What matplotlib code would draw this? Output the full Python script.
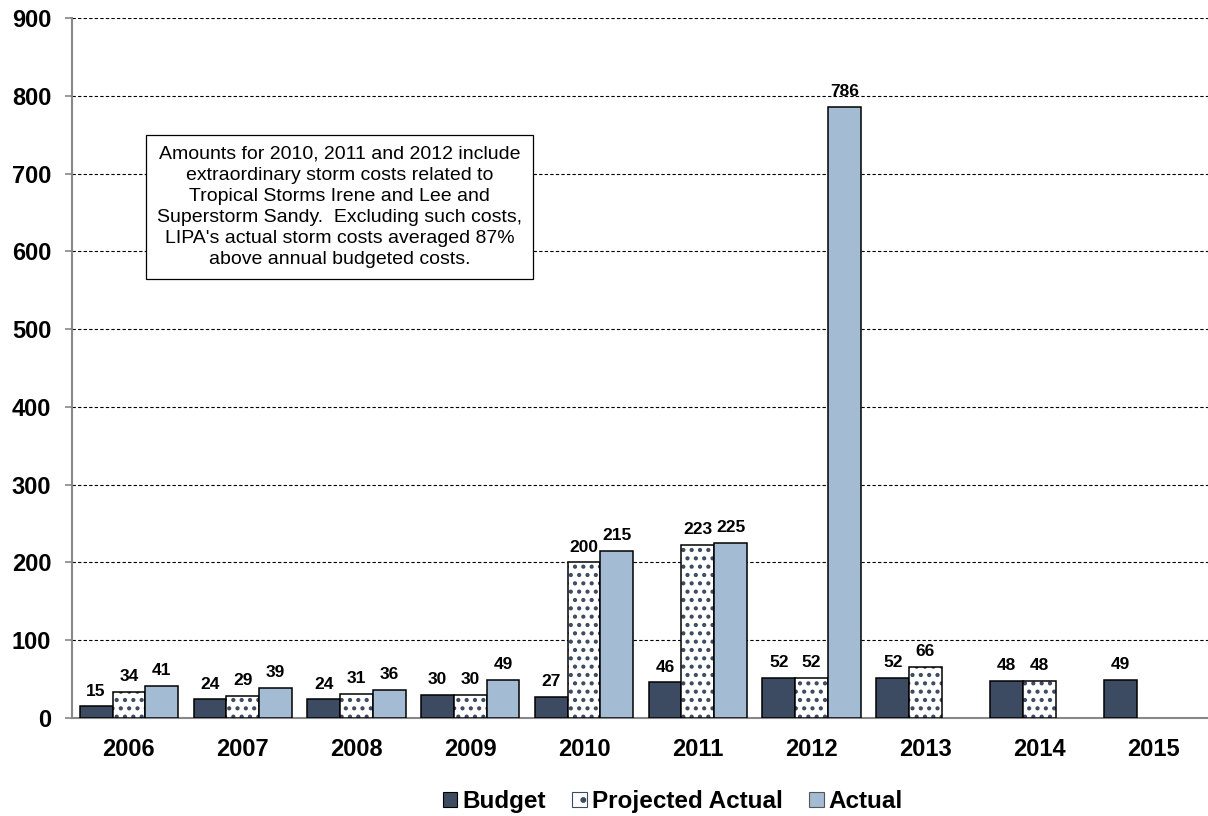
import numpy as np
import matplotlib.pyplot as plt
from matplotlib.patches import Patch

plt.rcParams['font.family'] = ['Liberation Sans', 'DejaVu Sans']
plt.rcParams['hatch.linewidth'] = 1.8
plt.rcParams['hatch.color'] = '#3c4b61'

years = ['2006', '2007', '2008', '2009', '2010', '2011', '2012', '2013', '2014', '2015']
budget = [15, 24, 24, 30, 27, 46, 52, 52, 48, 49]
projected = [34, 29, 31, 30, 200, 223, 52, 66, 48, None]
actual = [41, 39, 36, 49, 215, 225, 786, None, None, None]

note = ("Amounts for 2010, 2011 and 2012 include\n"
        "extraordinary storm costs related to\n"
        "Tropical Storms Irene and Lee and\n"
        "Superstorm Sandy.  Excluding such costs,\n"
        "LIPA's actual storm costs averaged 87%\n"
        "above annual budgeted costs.")

c_budget = '#3c4b61'
c_actual = '#a3bbd3'

fig = plt.figure(figsize=(12.08, 8.16), dpi=100)
ax = fig.add_axes([0.0596, 0.12, 0.942, 0.858])

x = np.arange(len(years))
w = 0.288


def draw(vals, offset, **kw):
    xs = [xi + offset for xi, v in zip(x, vals) if v is not None]
    vs = [v for v in vals if v is not None]
    bars = ax.bar(xs, vs, w, zorder=3, **kw)
    for b, v in zip(bars, vs):
        ax.text(b.get_x() + b.get_width() / 2, v + 10, str(v), ha='center', va='bottom',
                fontsize=12.5, fontweight='bold', zorder=4)
    return xs, vs


draw(budget, -w, color=c_budget, edgecolor='black', linewidth=1.1)
xs, vs = draw(projected, 0, facecolor='white', edgecolor=c_budget, linewidth=0, hatch='..')
# black outline over the dotted bars
ax.bar(xs, vs, w, facecolor='none', edgecolor='black', linewidth=1.1, zorder=3)
draw(actual, w, color=c_actual, edgecolor='black', linewidth=1.1)

ax.set_ylim(0, 900)
ax.set_xlim(-0.5, 9.5)
ax.set_yticks(range(0, 901, 100))
ax.set_xticks(x)
ax.set_xticklabels(years)
ax.tick_params(axis='x', length=0, pad=14, labelsize=17)
ax.tick_params(axis='y', length=5, width=1.2, color='#888888', labelsize=17, pad=10)
for lbl in ax.get_xticklabels() + ax.get_yticklabels():
    lbl.set_fontweight('bold')

ax.yaxis.grid(True, linestyle=(0, (3, 2)), color='black', linewidth=0.8, zorder=0)
ax.set_axisbelow(True)
for s in ['top', 'right']:
    ax.spines[s].set_visible(False)
for s in ['left', 'bottom']:
    ax.spines[s].set_color('#888888')
    ax.spines[s].set_linewidth(1.5)

ax.text(1.85, 657, note, ha='center', va='center', fontsize=14, linespacing=1.32,
        bbox=dict(boxstyle='square,pad=0.55', facecolor='white', edgecolor='black', linewidth=0.9),
        zorder=5)

handles = [Patch(facecolor=c_budget, edgecolor='black', linewidth=0.8),
           Patch(facecolor='white', edgecolor=c_budget, linewidth=0.8, hatch='.'),
           Patch(facecolor=c_actual, edgecolor='#555555', linewidth=0.8)]
labels = ['Budget', 'Projected Actual', 'Actual']
fig.legend(handles, labels, loc='center', bbox_to_anchor=(0.557, 0.018), ncol=3,
           frameon=False, prop={'weight': 'bold', 'size': 17.5},
           handlelength=0.6, handleheight=0.6, handletextpad=0.2, columnspacing=1.1)

fig.savefig('out.png', dpi=100)
